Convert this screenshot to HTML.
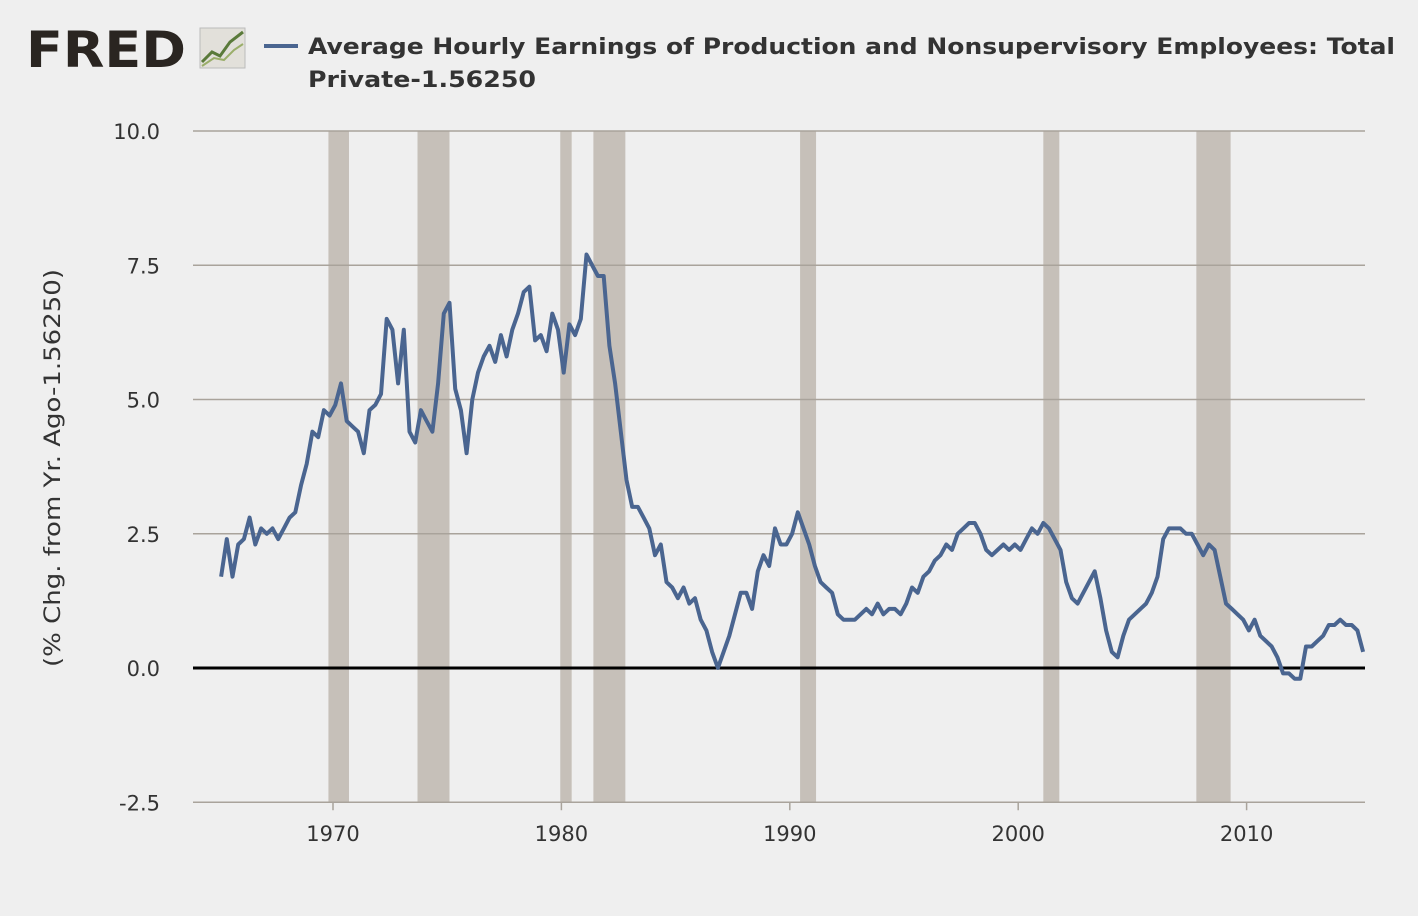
<!DOCTYPE html>
<html><head><meta charset="utf-8"><style>
body{margin:0;background:#efefef;width:1418px;height:912px;overflow:hidden;font-family:"DejaVu Sans","Liberation Sans",sans-serif}
</style></head><body>
<svg width="1418" height="912" id="svg" font-family="DejaVu Sans, Liberation Sans, sans-serif">
<rect width="1418" height="912" fill="#efefef"/>
<g>
<text x="26" y="67" font-size="50" font-weight="bold" fill="#2a2521" textLength="160" lengthAdjust="spacingAndGlyphs">FRED</text>
<rect x="200" y="28" width="45" height="40" fill="#e2e0da" stroke="#bbb"/>
<polyline points="202,62 212,52 220,56 230,42 243,32" fill="none" stroke="#5a7a3a" stroke-width="3"/>
<polyline points="202,66 214,58 224,60 234,50 243,44" fill="none" stroke="#9aae6a" stroke-width="2"/>
</g>
<line x1="264" y1="46" x2="298" y2="46" stroke="#4a6590" stroke-width="4"/>
<text x="308" y="54" font-size="22" font-weight="bold" fill="#333" textLength="1087" lengthAdjust="spacingAndGlyphs">Average Hourly Earnings of Production and Nonsupervisory Employees: Total</text>
<text x="308" y="87" font-size="22" font-weight="bold" fill="#333" textLength="228" lengthAdjust="spacingAndGlyphs">Private-1.56250</text>
<text transform="translate(60,468) rotate(-90)" text-anchor="middle" font-size="22" fill="#333" textLength="398" lengthAdjust="spacingAndGlyphs">(% Chg. from Yr. Ago-1.56250)</text>
<g id="rec"></g><g id="grid"></g><g id="xt"></g><g id="line"></g>
</svg>
<script>
const yTicks=[10,7.5,5,2.5,0,-2.5];
const yTickLabels=["10.0","7.5","5.0","2.5","0.0","-2.5"];
const xTicks=[1970,1980,1990,2000,2010];
const recessions=[[1969.8,1970.7],[1973.7,1975.1],[1979.95,1980.45],[1981.4,1982.8],[1990.45,1991.15],[2001.1,2001.8],[2007.8,2009.3]];
const startYear=1965.1;
const values=[1.7,2.4,1.7,2.3, 2.4,2.8,2.3,2.6, 2.5,2.6,2.4,2.6, 2.8,2.9,3.4,3.8, 4.4,4.3,4.8,4.7,
4.9,5.3,4.6,4.5, 4.4,4.0,4.8,4.9, 5.1,6.5,6.3,5.3, 6.3,4.4,4.2,4.8, 4.6,4.4,5.3,6.6,
6.8,5.2,4.8,4.0, 5.0,5.5,5.8,6.0, 5.7,6.2,5.8,6.3, 6.6,7.0,7.1,6.1, 6.2,5.9,6.6,6.3,
5.5,6.4,6.2,6.5, 7.7,7.5,7.3,7.3, 6.0,5.3,4.4,3.5, 3.0,3.0,2.8,2.6, 2.1,2.3,1.6,1.5,
1.3,1.5,1.2,1.3, 0.9,0.7,0.3,0.0, 0.3,0.6,1.0,1.4, 1.4,1.1,1.8,2.1, 1.9,2.6,2.3,2.3,
2.5,2.9,2.6,2.3, 1.9,1.6,1.5,1.4, 1.0,0.9,0.9,0.9, 1.0,1.1,1.0,1.2, 1.0,1.1,1.1,1.0,
1.2,1.5,1.4,1.7, 1.8,2.0,2.1,2.3, 2.2,2.5,2.6,2.7, 2.7,2.5,2.2,2.1, 2.2,2.3,2.2,2.3,
2.2,2.4,2.6,2.5, 2.7,2.6,2.4,2.2, 1.6,1.3,1.2,1.4, 1.6,1.8,1.3,0.7, 0.3,0.2,0.6,0.9,
1.0,1.1,1.2,1.4, 1.7,2.4,2.6,2.6, 2.6,2.5,2.5,2.3, 2.1,2.3,2.2,1.7, 1.2,1.1,1.0,0.9,
0.7,0.9,0.6,0.5, 0.4,0.2,-0.1,-0.1, -0.2,-0.2,0.4,0.4, 0.5,0.6,0.8,0.8, 0.9,0.8,0.8,0.7, 0.3];
const X0=193,X1=1365;
const xs=y=>333+(y-1970)*22.84;
const ys=v=>668-v*53.7;
const NS="http://www.w3.org/2000/svg";
function mk(t,a,p){const e=document.createElementNS(NS,t);for(const k in a)e.setAttribute(k,a[k]);p.appendChild(e);return e;}
const rec=document.getElementById('rec'),grid=document.getElementById('grid'),xt=document.getElementById('xt'),ln=document.getElementById('line');
recessions.forEach(r=>{
const e=mk('rect',{x:xs(r[0]),y:ys(10),width:xs(r[1])-xs(r[0]),height:ys(-2.5)-ys(10),fill:'#c6c0b9'},rec);


});
yTicks.forEach((v,i)=>{
const l=mk('line',{x1:X0,x2:X1,y1:ys(v),y2:ys(v),stroke:v===0?'#000':'#a9a39b','stroke-width':v===0?3:1.5},grid);


const t=mk('text',{x:160,y:ys(v)+8,'text-anchor':'end','font-size':21,fill:'#333'},grid);
t.textContent=yTickLabels[i];


});
xTicks.forEach(y=>{
mk('line',{x1:xs(y),x2:xs(y),y1:ys(-2.5),y2:ys(-2.5)+8,stroke:'#a9a39b','stroke-width':1.5},xt);
const t=mk('text',{x:xs(y),y:841,'text-anchor':'middle','font-size':21,fill:'#333'},xt);
t.textContent=y;


});
const pts=values.map((v,i)=>xs(startYear+i*0.25).toFixed(1)+','+ys(v).toFixed(1)).join(' ');
const pl=mk('polyline',{points:pts,fill:'none',stroke:'#4a6590','stroke-width':4,'stroke-linejoin':'round'},ln);


</script>
</body></html>
